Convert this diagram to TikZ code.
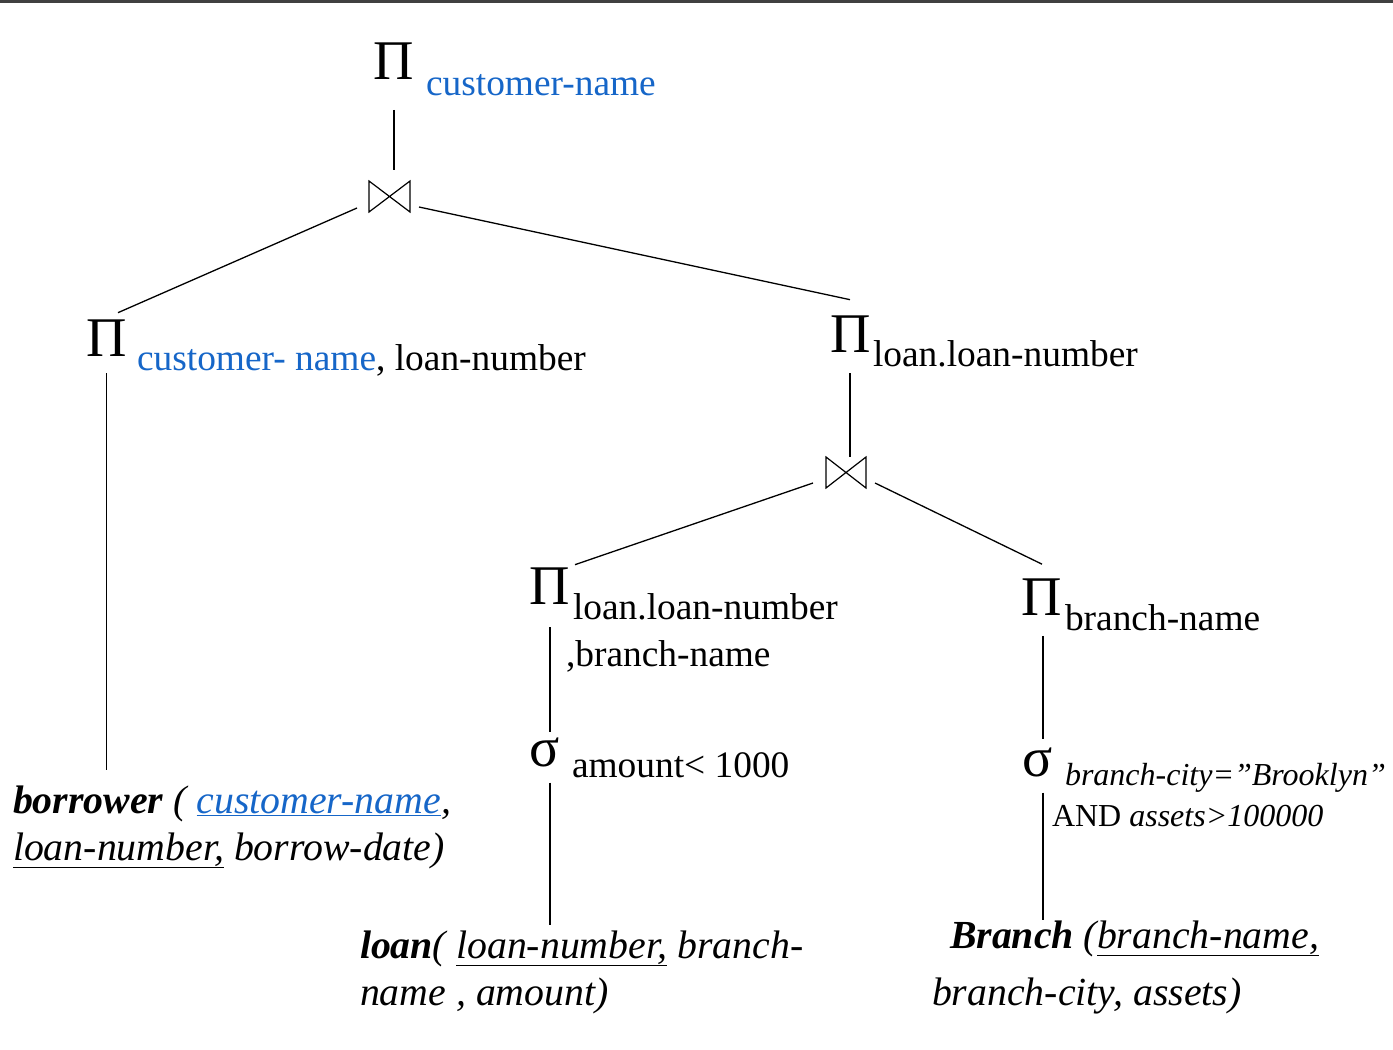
\documentclass[tikz,border=0pt]{standalone}
\usepackage{fontspec}
\setmainfont{Liberation Serif}
\usetikzlibrary{calc}
\definecolor{attrblue}{RGB}{22,102,200}
\definecolor{topbar}{RGB}{64,64,64}
\begin{document}
\begin{tikzpicture}[x=1pt,y=-1pt,
  op/.style={inner sep=0pt,outer sep=0pt,font=\fontsize{56}{60}\selectfont},
  sub/.style={inner sep=0pt,outer sep=0pt,anchor=base west,font=\fontsize{37.4}{40}\selectfont},
  cond/.style={inner sep=0pt,outer sep=0pt,anchor=base west,font=\fontsize{32}{36}\selectfont},
  rel/.style={inner sep=0pt,outer sep=0pt,anchor=base west,font=\fontsize{39.8}{44}\selectfont\itshape},
  joinbox/.style={inner sep=0pt,outer sep=0pt,minimum width=41pt,minimum height=31pt},
  bowtie/.style={draw=black,line width=1.2pt,line join=miter},
  edge/.style={draw=black,line width=1.3pt}]
\useasboundingbox (0,0) rectangle (1393,1050);
\fill[topbar] (0,0) rectangle (1393,2.5);

% operators
\node[op] (pi1) at (394,61.5) {Π};
\node[sub,text=attrblue] (pi1s) at (426,95) {customer-name};
\node[joinbox] (j1) at (389.5,196.5) {};
\node[op] (pi2) at (106.5,338) {Π};
\node[sub] (pi2s) at (137,370) {\textcolor{attrblue}{customer- name}, loan-number};
\node[op] (pi3) at (851,334) {Π};
\node[sub] (pi3s) at (873,366) {loan.loan-number};
\node[joinbox,minimum width=40pt] (j2) at (846,472.5) {};
\node[op] (pi4) at (550,586) {Π};
\node[sub] (pi4s) at (573,619) {loan.loan-number};
\node[sub] (pi4t) at (566,666) {,branch-name};
\node[op] (pi5) at (1042,597.5) {Π};
\node[sub] (pi5s) at (1065,630) {branch-name};
\node[op] (sg1) at (545,752) {σ};
\node[sub] (sg1s) at (572,777) {amount< 1000};
\node[op] (sg2) at (1038,762) {σ};
\node[cond] (sg2s) at (1065,785) {\itshape branch-city=”Brooklyn”};
\node[cond] (sg2t) at (1052,826) {AND \textit{assets>100000}};

% relations
\node[rel] (bor1) at (13,813) {\textbf{borrower} ( \textcolor{attrblue}{\underline{customer-name}},};
\node[rel] (bor2) at (13,860) {\underline{loan-number,} borrow-date)};
\node[rel] (loan1) at (360,958) {\textbf{loan}( \underline{loan-number,} branch-};
\node[rel] (loan2) at (360,1005) {name , amount)};
\node[rel] (br1) at (950,948) {\textbf{Branch} (\underline{branch-name,}};
\node[rel] (br2) at (932,1005) {branch-city, assets)};

% join symbols
\draw[bowtie] (j1.north west) -- (j1.south west) -- (j1.north east) -- (j1.south east) -- cycle;
\draw[bowtie] (j2.north west) -- (j2.south west) -- (j2.north east) -- (j2.south east) -- cycle;

% connectors
\draw[edge] ($(pi1.south)+(0,30)$) -- ($(j1.north)+(4.5,-11)$);
\draw[edge] ($(j1.west)+(-12,11.5)$) -- ($(pi2.north)+(11.5,-7)$);
\draw[edge] ($(j1.east)+(9,10.5)$) -- ($(pi3.north)+(-1,-16)$);
\draw[edge] ($(pi2.south)+(0,17)$) -- ($(pi2.south |- bor1.base)+(0,-43)$);
\draw[edge] ($(pi3.south)+(-1,21)$) -- ($(j2.north)+(4,0)$);
\draw[edge] ($(j2.west)+(-13,10.5)$) -- ($(pi4.north)+(25,-3)$);
\draw[edge] ($(j2.east)+(9,10.5)$) -- ($(pi5.north)+(0,-15)$);
\draw[edge] ($(pi4.south)+(0,23)$) -- ($(sg1.north)+(5,-5)$);
\draw[edge] ($(sg1.south)+(5,16)$) -- ($(sg1.south |- loan1.base)+(5,-33)$);
\draw[edge] ($(pi5.south)+(1,20)$) -- ($(sg2.north)+(5,-8)$);
\draw[edge] ($(sg2.south)+(5,16)$) -- ($(sg2.south |- br1.base)+(5,-28)$);
\end{tikzpicture}
\end{document}
